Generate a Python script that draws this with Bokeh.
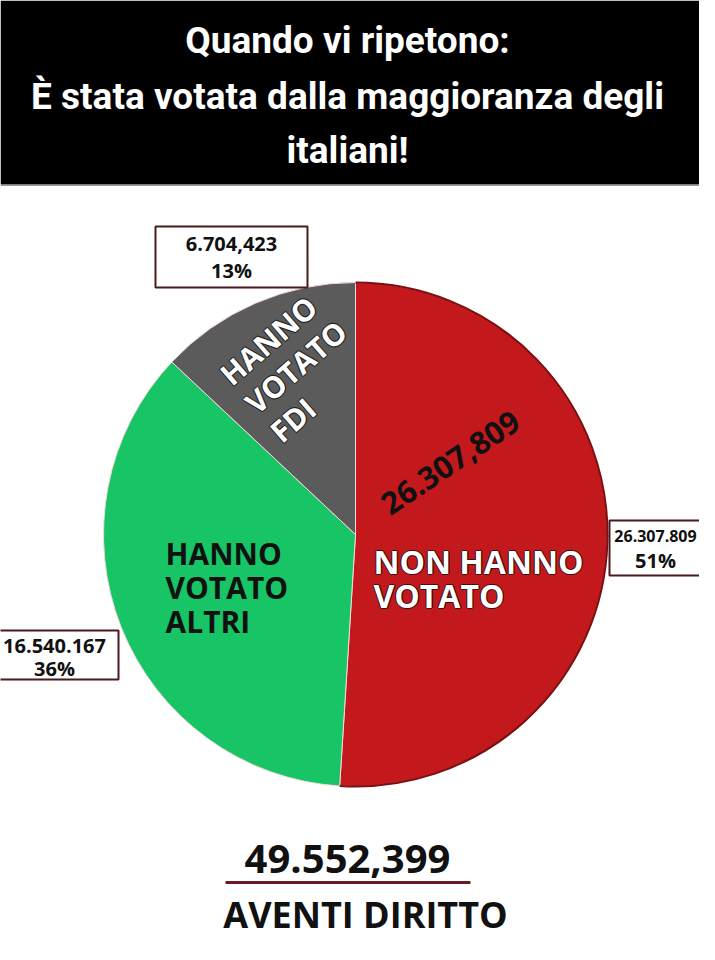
import math
from bokeh.plotting import figure
from bokeh.models import Range1d
from bokeh.core.properties import value
from bokeh.embed import file_html
from bokeh.resources import INLINE

# ---- data ----
categories = ["NON HANNO VOTATO", "HANNO VOTATO ALTRI", "HANNO VOTATO FDI"]
counts_text = ["26.307.809", "16.540.167", "6.704,423"]
percent = [51, 36, 13]
colors = ["#C3191D", "#17C466", "#5B5B5B"]
total_text = "49.552,399"
total_label = "AVENTI DIRITTO"
title_lines = ["Quando vi ripetono:", "È stata votata dalla maggioranza degli", "italiani!"]
center_number = "26.307,809"

W, H = 715, 960
PW, PH = 699, 944
def Y(ry):
    return H - ry

p = figure(width=PW, height=PH, x_range=Range1d(0, PW), y_range=Range1d(H - PH, H),
           output_backend="svg", toolbar_location=None, min_border=0)
p.axis.visible = False
p.grid.visible = False
p.outline_line_color = None
p.background_fill_color = "white"
p.border_fill_color = "white"

# header band
p.quad(left=[0], right=[W], top=[Y(0)], bottom=[Y(184)], fill_color="black", line_color=None)
p.segment(x0=[0], y0=[Y(185)], x1=[W], y1=[Y(185)], line_color="#9a9a9a", line_width=1)
TF = value("Roboto")
p.text(x=[347, 347, 347], y=[Y(40), Y(96), Y(150)], text=title_lines, text_font=TF,
       text_font_style="bold", text_font_size="37px", text_color="white",
       text_align="center", text_baseline="middle")

# pie
cx, cy, r = 355, Y(534), 252
tot = sum(percent)
starts, ends = [], []
acc = 0.0
for v in percent:
    starts.append(math.pi / 2 - 2 * math.pi * acc / tot)
    acc += v
    ends.append(math.pi / 2 - 2 * math.pi * acc / tot)
p.wedge(x=cx, y=cy, radius=r, start_angle=starts, end_angle=ends, direction="clock",
        fill_color=colors, line_color="#f4d8d8", line_width=1)
p.arc(x=cx, y=cy, radius=r, start_angle=starts[0], end_angle=ends[0], direction="clock",
      line_color="#7a0f12", line_width=2)

OS = value("Open Sans")

def outlined(xs, ys, texts, size, angle=0.0, align="left", color="white", shadow="#3a1010"):
    for dx, dy in [(-1.2, 0), (1.2, 0), (0, -1.2), (0, 1.2)]:
        p.text(x=[x + dx for x in xs], y=[y + dy for y in ys], text=texts, angle=angle,
               text_font=OS, text_font_style="bold", text_font_size=size, text_color=shadow,
               text_align=align, text_baseline="middle")
    p.text(x=xs, y=ys, text=texts, angle=angle, text_font=OS, text_font_style="bold",
           text_font_size=size, text_color=color, text_align=align, text_baseline="middle")

# red slice labels
outlined([373, 373], [Y(561), Y(595)], ["NON HANNO", "VOTATO"], "32px")
p.text(x=[450], y=[Y(462)], text=[center_number], angle=math.radians(34),
       text_font=OS, text_font_style="bold", text_font_size="31px", text_color="#111111",
       text_align="center", text_baseline="middle")

# green slice labels
p.text(x=[165, 165, 165], y=[Y(553), Y(587), Y(621)], text=["HANNO", "VOTATO", "ALTRI"],
       text_font=OS, text_font_style="bold", text_font_size="30px", text_color="#111111",
       text_align="left", text_baseline="middle")

# gray slice labels (rotated block)
ang = math.radians(41)
vx, vy = math.sin(ang), -math.cos(ang)
sx, sy = 224, Y(378)
gx = [sx + i * 38 * vx for i in range(3)]
gy = [sy + i * 38 * vy for i in range(3)]
outlined(gx, gy, ["HANNO", "VOTATO", "FDI"], "30px", angle=ang, shadow="#222222")

# value boxes: (left, right, top, bottom, text x, text ys, index, number font size)
boxes = [(609, 740, 520, 575, 655, [Y(535), Y(560)], 0, "16px"),
         (-10, 118, 630, 679, 54, [Y(645), Y(668)], 1, "20px"),
         (155, 307, 226, 287, 231, [Y(243), Y(270)], 2, "20px")]
for l, rr, t, b, tx, tys, i, fs in boxes:
    p.quad(left=[l], right=[rr], top=[Y(t)], bottom=[Y(b)], fill_color="white",
           line_color="#4a1a1e", line_width=2)
    p.text(x=[tx], y=[tys[0]], text=[counts_text[i]], text_font=OS,
           text_font_style="bold", text_font_size=fs, text_color="#111111",
           text_align="center", text_baseline="middle")
    p.text(x=[tx], y=[tys[1]], text=[f"{percent[i]}%"], text_font=OS,
           text_font_style="bold", text_font_size="20px", text_color="#111111",
           text_align="center", text_baseline="middle")

# total
p.text(x=[347], y=[Y(858)], text=[total_text], text_font=OS, text_font_style="bold",
       text_font_size="40px", text_color="#111111", text_align="center", text_baseline="middle")
p.segment(x0=[225], y0=[Y(882)], x1=[470], y1=[Y(882)], line_color="#6a1a22", line_width=3)
p.text(x=[365], y=[Y(914)], text=[total_label], text_font=OS, text_font_style="bold",
       text_font_size="36px", text_color="#111111", text_align="center", text_baseline="middle")

open("out.html", "w").write(file_html(p, INLINE))
